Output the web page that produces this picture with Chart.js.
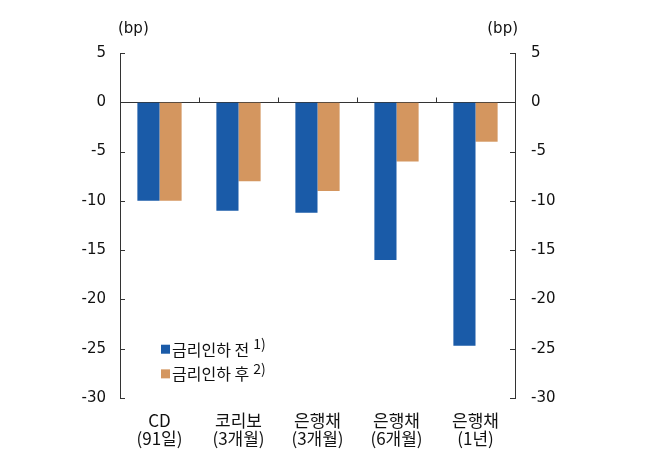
<!DOCTYPE html>
<html><head><meta charset="utf-8">
<script src="https://cdn.jsdelivr.net/npm/chart.js@4"></script>
<style>html,body{margin:0;padding:0;background:#fff}#wrap{width:658px;height:457px}</style>
</head><body><div id="wrap"><canvas id="c" width="658" height="457"></canvas></div>
<script>
const categories = [['CD','(91일)'], ['코리보','(3개월)'], ['은행채','(3개월)'], ['은행채','(6개월)'], ['은행채','(1년)']];
const beforeCut = [-10, -11, -11.2, -16, -24.7];
const afterCut = [-10, -8, -9, -6, -4];
const seriesNames = ['금리인하 전', '금리인하 후'];
const seriesNotes = ['1)', '2)'];
const yTicks = [5, 0, -5, -10, -15, -20, -25, -30];
const unitLabel = '(bp)';
const colors = ['#1a5ba8', '#d4965f'];
const FONT = '"DejaVu Sans", "Noto Sans CJK KR", sans-serif';
const KFONT = '"Noto Sans CJK KR", "Noto Sans", sans-serif';

const decor = {
  id: 'decor',
  afterDraw(chart) {
    const ctx = chart.ctx, ya = chart.scales.y, xa = chart.scales.x;
    const ca = chart.chartArea;
    ctx.save();
    ctx.strokeStyle = '#333'; ctx.lineWidth = 1;
    yTicks.forEach(v => {
      const py = Math.round(ya.getPixelForValue(v)) + 0.5;
      ctx.beginPath(); ctx.moveTo(ca.left, py); ctx.lineTo(ca.left + 5, py); ctx.stroke();
      ctx.beginPath(); ctx.moveTo(ca.right, py); ctx.lineTo(ca.right - 5, py); ctx.stroke();
    });
    const y0 = Math.round(ya.getPixelForValue(0)) + 0.5;
    for (let i = 1; i < categories.length; i++) {
      const px = Math.round((xa.getPixelForValue(i - 1) + xa.getPixelForValue(i)) / 2) + 0.5;
      ctx.beginPath(); ctx.moveTo(px, y0); ctx.lineTo(px, y0 - 5); ctx.stroke();
    }
    ctx.fillStyle = '#111';
    ctx.font = '15px ' + FONT;
    ctx.textBaseline = 'middle';
    ctx.textAlign = 'left';
    ctx.fillText(unitLabel, ca.left - 2, ca.top - 24);
    ctx.textAlign = 'right';
    ctx.fillText(unitLabel, ca.right + 3, ca.top - 24);
    const lx = ca.left + 41, ly = [ya.getPixelForValue(-25), ya.getPixelForValue(-27.5)];
    chart.data.datasets.forEach((ds, i) => {
      const cy = ly[i];
      ctx.fillStyle = colors[i];
      ctx.fillRect(lx, cy - 4, 9, 9);
      ctx.fillStyle = '#111';
      ctx.textAlign = 'left';
      ctx.font = '16px ' + KFONT;
      ctx.fillText(seriesNames[i], lx + 11, cy + 1);
      const w = ctx.measureText(seriesNames[i]).width;
      ctx.font = '14px ' + KFONT;
      ctx.fillText(seriesNotes[i], lx + 11 + w + 4, cy - 5);
    });
    ctx.restore();
  }
};

new Chart(document.getElementById('c'), {
  type: 'bar',
  data: {
    labels: categories,
    datasets: [
      { label: seriesNames[0], data: beforeCut, backgroundColor: colors[0], yAxisID: 'y' },
      { label: seriesNames[1], data: afterCut, backgroundColor: colors[1], yAxisID: 'y' }
    ]
  },
  options: {
    responsive: false,
    animation: false,
    layout: { padding: { top: 53, left: 0, right: 0, bottom: 0 } },
    datasets: { bar: { categoryPercentage: 0.56, barPercentage: 1.0 } },
    plugins: { legend: { display: false }, tooltip: { enabled: false } },
    scales: {
      x: {
        grid: { display: false },
        border: { display: false },
        ticks: { color: '#111', font: { family: KFONT, size: 17, lineHeight: 1.05 }, padding: 6, maxRotation: 0 },
        afterFit(s) { s.height = 59; }
      },
      y: {
        position: 'left', min: -30, max: 5,
        ticks: { stepSize: 5, color: '#111', font: { family: FONT, size: 15 }, padding: 14 },
        grid: { drawTicks: false, color: c => c.tick && c.tick.value === 0 ? '#333' : 'rgba(0,0,0,0)' },
        border: { display: true, color: '#333' },
        afterFit(s) { s.width = 120; }
      },
      y2: {
        position: 'right', min: -30, max: 5,
        ticks: { stepSize: 5, color: '#111', font: { family: FONT, size: 15 }, padding: 16 },
        grid: { display: false, drawTicks: false },
        border: { display: true, color: '#333' },
        afterFit(s) { s.width = 143; }
      }
    }
  },
  plugins: [decor]
});
</script>
</body></html>
